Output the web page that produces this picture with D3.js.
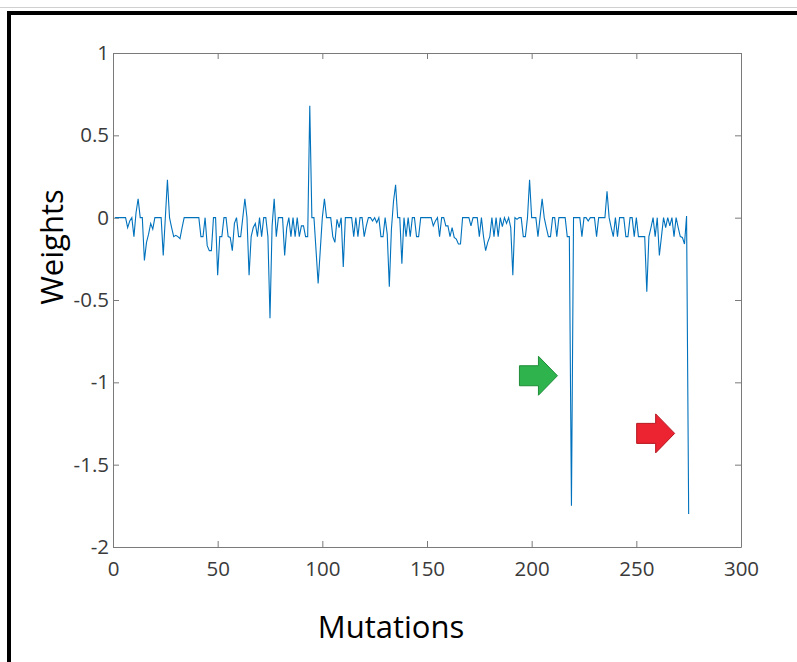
<!DOCTYPE html>
<html>
<head>
<meta charset="utf-8">
<script src="https://cdn.jsdelivr.net/npm/d3@7"></script>
<style>
  html, body { margin: 0; padding: 0; background: #fff; }
  svg { display: block; }
</style>
</head>
<body>
<svg id="chart" width="797" height="662"></svg>
<script>
// Weight per mutation position (positions 1..275)
const weights = [
  0, 0, 0, 0, 0, 0, -0.06, -0.02, 0, -0.115,
  0.03, 0.115, 0, 0, -0.26, -0.15, -0.1, -0.035, -0.07, 0,
  0, 0, 0, -0.23, 0, 0.23, 0, -0.06, -0.115, -0.107,
  -0.115, -0.127, -0.06, 0, 0, 0, 0, 0, 0, 0,
  0, -0.115, -0.115, 0, -0.17, -0.2, -0.2, 0, 0, -0.35,
  -0.115, -0.115, 0, 0, -0.115, -0.12, -0.2, -0.035, 0, -0.115,
  -0.115, 0, 0.115, 0, -0.35, -0.115, -0.06, -0.035, -0.115, 0,
  -0.115, 0, 0, -0.115, -0.61, -0.05, 0.115, -0.115, 0, 0,
  0, -0.23, -0.06, 0, -0.115, 0, -0.115, 0, -0.115, -0.05,
  -0.05, -0.115, -0.115, 0.68, 0, 0, -0.2, -0.4, -0.2, 0,
  0.115, 0, 0, 0, -0.115, -0.15, -0.01, -0.06, 0, -0.3,
  0, 0, 0, 0, -0.115, 0, -0.115, 0, 0, -0.115,
  -0.05, 0, 0, -0.02, 0, -0.03, 0, -0.115, -0.115, 0,
  -0.1, -0.42, -0.07, 0.1, 0.2, 0, 0, -0.28, 0, -0.115,
  0, -0.115, 0, 0, -0.115, -0.115, 0, 0, 0, 0,
  0, 0, -0.05, -0.02, 0, -0.115, 0, 0, -0.05, -0.05,
  -0.115, -0.06, -0.12, -0.13, -0.16, -0.16, 0, 0, 0, 0,
  -0.05, 0, 0, 0, -0.115, 0, -0.115, -0.2, -0.15, -0.115,
  0, -0.115, 0, -0.115, 0, -0.055, 0, -0.035, 0, -0.06,
  -0.35, 0, -0.01, 0, 0, -0.115, -0.115, 0, 0.23, 0,
  0, 0, -0.115, 0, 0.115, 0, -0.06, -0.115, -0.115, 0,
  0, -0.115, 0, 0, 0, 0, -0.115, -0.115, -1.75, 0,
  0, 0, 0, -0.115, 0, 0, -0.02, 0, 0, 0,
  -0.115, 0, 0, 0, 0, 0.16, 0, -0.06, -0.115, 0,
  -0.115, 0, 0, 0, -0.115, -0.115, 0, 0, -0.115, 0,
  -0.115, -0.115, -0.115, -0.115, -0.45, -0.115, -0.06, 0, -0.115, 0,
  -0.23, -0.115, 0, -0.06, 0, -0.05, 0, -0.115, 0, -0.06,
  -0.115, -0.12, -0.16, 0.01, -1.8
];
const xTicks = [0, 50, 100, 150, 200, 250, 300];
const yTicks = [1, 0.5, 0, -0.5, -1, -1.5, -2];
const xLabel = "Mutations";
const yLabel = "Weights";
// Highlighted positions: [position, weight level where the arrow points, colour]
const markers = [
  { pos: 219, level: -0.96, fill: "#2fb44d", stroke: "#1f8c38" },
  { pos: 275, level: -1.31, fill: "#ec2330", stroke: "#b5161f" }
];

const svg = d3.select("#chart");

// Outer page frame
svg.append("line").attr("x1", 0).attr("x2", 797).attr("y1", 7.5).attr("y2", 7.5)
  .attr("stroke", "#d0d0d0").attr("stroke-width", 1);
svg.append("rect").attr("x", 9).attr("y", 13).attr("width", 800).attr("height", 660)
  .attr("fill", "none").attr("stroke", "#000").attr("stroke-width", 4);

const L = 113, R = 741, T = 53, B = 547;
const x = d3.scaleLinear().domain([0, 300]).range([L, R]);
const y = d3.scaleLinear().domain([-2, 1]).range([B, T]);

const axisColor = "#7a7a7a";
const tickFont = "'Open Sans', sans-serif";
const plainNumber = d => String(d);

function styleAxis(g) {
  g.select(".domain").attr("stroke", axisColor);
  g.selectAll(".tick line").attr("stroke", axisColor);
  g.selectAll(".tick text").attr("fill", "#3a3a3a")
    .style("font-family", tickFont).style("font-size", "20.5px");
}

// Bottom and left axes with inward ticks
svg.append("g").attr("transform", `translate(0,${B})`)
  .call(d3.axisBottom(x).tickValues(xTicks).tickFormat(plainNumber).tickSizeInner(-6).tickSizeOuter(0).tickPadding(14))
  .call(styleAxis)
  .call(g => g.selectAll(".tick text").attr("dy", "0.75em"));

svg.append("g").attr("transform", `translate(${L},0)`)
  .call(d3.axisLeft(y).tickValues(yTicks).tickFormat(plainNumber).tickSizeInner(-6).tickSizeOuter(0).tickPadding(4))
  .call(styleAxis);

// Top and right box edges with mirrored ticks
svg.append("g").attr("transform", `translate(0,${T})`)
  .call(d3.axisTop(x).tickValues(xTicks).tickSizeInner(-6).tickSizeOuter(0).tickFormat(""))
  .call(styleAxis);
svg.append("g").attr("transform", `translate(${R},0)`)
  .call(d3.axisRight(y).tickValues(yTicks).tickSizeInner(-6).tickSizeOuter(0).tickFormat(""))
  .call(styleAxis);

// Weight trace
const line = d3.line().x((d, i) => x(i + 1)).y(d => y(d));
svg.append("path").datum(weights)
  .attr("d", line)
  .attr("fill", "none")
  .attr("stroke", "#0072bd")
  .attr("stroke-width", 1.1)
  .attr("stroke-linejoin", "miter");

// Block arrows pointing at the two largest negative weights
markers.forEach(m => {
  const tipX = x(m.pos) - 14, tipY = y(m.level);
  const len = 38, headLen = 19, bodyH = 20, headH = 39;
  const x0 = tipX - len, xh = tipX - headLen;
  const pts = [
    [x0, tipY - bodyH / 2], [xh, tipY - bodyH / 2], [xh, tipY - headH / 2],
    [tipX, tipY], [xh, tipY + headH / 2], [xh, tipY + bodyH / 2], [x0, tipY + bodyH / 2]
  ];
  svg.append("path").attr("d", "M" + pts.map(p => p.join(",")).join("L") + "Z")
    .attr("fill", m.fill).attr("stroke", m.stroke).attr("stroke-width", 1);
});

// Axis titles
svg.append("text").attr("x", 391).attr("y", 638).attr("text-anchor", "middle")
  .style("font-family", "'Open Sans', sans-serif").style("font-size", "31px")
  .attr("fill", "#000").text(xLabel);
svg.append("text").attr("transform", "translate(63,247) rotate(-90)").attr("text-anchor", "middle")
  .style("font-family", "'Open Sans', sans-serif").style("font-size", "31px")
  .attr("fill", "#000").text(yLabel);
</script>
</body>
</html>
